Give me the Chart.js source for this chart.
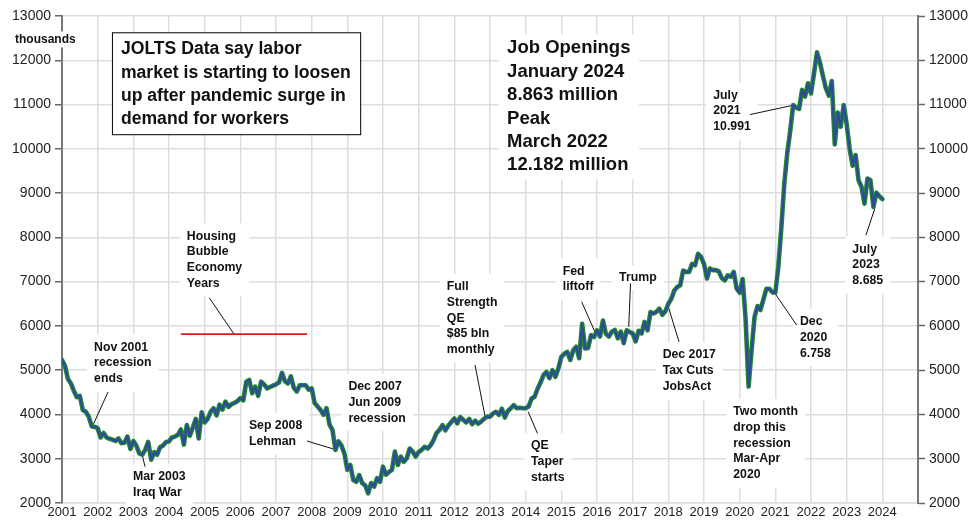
<!DOCTYPE html>
<html lang="en">
<head>
  <meta charset="UTF-8" />
  <title>JOLTS Job Openings</title>
  <script src="https://cdn.jsdelivr.net/npm/chart.js"></script>
  <style>
    body { margin: 0; padding: 0; background: #fff; }
    #wrap { width: 980px; height: 521px; position: relative; }
  </style>
</head>
<body>
  <div id="wrap"><canvas id="chartCanvas" width="980" height="521"></canvas></div>

  <script>
    // JOLTS job openings, thousands, monthly Jan..Dec of each year
    const y2001 = [5230, 5100, 4800, 4700, 4530, 4390, 4420, 4100, 4060, 3950, 3730, 3720];
    const y2002 = [3690, 3480, 3580, 3480, 3450, 3430, 3400, 3460, 3350, 3360, 3500, 3220];
    const y2003 = [3400, 3300, 3120, 3090, 3200, 3380, 2980, 3150, 3090, 3260, 3300, 3380];
    const y2004 = [3390, 3480, 3500, 3540, 3660, 3320, 3760, 3520, 3700, 3900, 3460, 4050];
    const y2005 = [3820, 3900, 4060, 4140, 3980, 4220, 4110, 4290, 4170, 4230, 4260, 4300];
    const y2006 = [4370, 4320, 4740, 4780, 4480, 4630, 4420, 4740, 4680, 4590, 4620, 4650];
    const y2007 = [4680, 4720, 4940, 4750, 4700, 4860, 4600, 4520, 4660, 4660, 4660, 4560];
    const y2008 = [4590, 4260, 4180, 4100, 3990, 4140, 3770, 3650, 3200, 3390, 3300, 3120];
    const y2009 = [2750, 2860, 2520, 2480, 2630, 2450, 2400, 2220, 2450, 2370, 2560, 2480];
    const y2010 = [2820, 2640, 2700, 2750, 3160, 2860, 3050, 2930, 3010, 3230, 3160, 3050];
    const y2011 = [3150, 3200, 3270, 3230, 3300, 3420, 3580, 3650, 3760, 3640, 3750, 3830];
    const y2012 = [3910, 3800, 3940, 3880, 3820, 3900, 3780, 3860, 3790, 3840, 3900, 3950];
    const y2013 = [3950, 4020, 4060, 3990, 4130, 3930, 4080, 4140, 4210, 4140, 4150, 4140];
    const y2014 = [4140, 4180, 4360, 4400, 4580, 4720, 4890, 4960, 4820, 5000, 4850, 5040];
    const y2015 = [5300, 5370, 5410, 5230, 5450, 5530, 5270, 6050, 5490, 5500, 5790, 5750];
    const y2016 = [5900, 5760, 6120, 5820, 5760, 5870, 5910, 5720, 5870, 5610, 5900, 5860];
    const y2017 = [5830, 5650, 5890, 5830, 6090, 5900, 6310, 6280, 6320, 6390, 6250, 6330];
    const y2018 = [6500, 6610, 6800, 6880, 6920, 7250, 7220, 7220, 7400, 7370, 7630, 7560];
    const y2019 = [7400, 7070, 7300, 7260, 7260, 7230, 7080, 7030, 7140, 7110, 7220, 6840];
    const y2020 = [6750, 7060, 6150, 4630, 5450, 6200, 6450, 6360, 6600, 6840, 6840, 6758];
    const y2021 = [6750, 7330, 8200, 9200, 9900, 10400, 10991, 10930, 10900, 11330, 11180, 11480];
    const y2022 = [11250, 11700, 12182, 11950, 11650, 11370, 11200, 11530, 10100, 10820, 10500, 10990];
    const y2023 = [10560, 10000, 9620, 9860, 9290, 9140, 8760, 9330, 9290, 8685, 9010, 8930];
    const y2024 = [8863];

    const years = [2001, 2002, 2003, 2004, 2005, 2006, 2007, 2008, 2009, 2010, 2011, 2012,
                   2013, 2014, 2015, 2016, 2017, 2018, 2019, 2020, 2021, 2022, 2023, 2024];
    const byYear = [y2001, y2002, y2003, y2004, y2005, y2006, y2007, y2008, y2009, y2010, y2011, y2012,
                    y2013, y2014, y2015, y2016, y2017, y2018, y2019, y2020, y2021, y2022, y2023, y2024];

    const points = [];
    byYear.forEach((arr, i) => {
      arr.forEach((v, m) => points.push({ x: years[i] + m / 12, y: v }));
    });

    const FONT = "'Liberation Sans', Arial, sans-serif";

    // notes: text lines, anchor (year, value) of first line, optional pointer
    const notes = [
      { lines: ["Nov 2001", "recession", "ends"], x: 2001.90, y: 5521, ptr: [2002.29, 4506, 2001.87, 3761] },
      { lines: ["Mar 2003", "Iraq War"], x: 2002.99, y: 2587, ptr: [2003.26, 3045, 2003.33, 2819] },
      { lines: ["Sep 2008", "Lehman"], x: 2006.24, y: 3745, ptr: [2007.87, 3400, 2008.71, 3196] },
      { lines: ["Dec 2007", "Jun 2009", "recession"], x: 2009.03, y: 4625 },
      { lines: ["Housing", "Bubble", "Economy", "Years"], x: 2004.50, y: 8027, ptr: [2005.13, 6634, 2005.83, 5808] },
      { lines: ["Full", "Strength", "QE", "$85 bln", "monthly"], x: 2011.79, y: 6883, ptr: [2012.58, 5115, 2012.86, 3964] },
      { lines: ["QE", "Taper", "starts"], x: 2014.15, y: 3287, ptr: [2014.07, 4061, 2014.33, 3573] },
      { lines: ["Fed", "liftoff"], x: 2015.04, y: 7237, ptr: [2015.57, 6544, 2015.94, 5867] },
      { lines: ["Trump"], x: 2016.62, y: 7086, ptr: [2016.94, 6959, 2016.89, 5980] },
      { lines: ["Dec 2017", "Tax Cuts", "JobsAct"], x: 2017.84, y: 5341, ptr: [2018.00, 6431, 2018.30, 5641] },
      { lines: ["Two month", "drop this", "recession", "Mar-Apr", "2020"], x: 2019.82, y: 4061 },
      { lines: ["Dec", "2020", "6.758"], x: 2021.69, y: 6093, ptr: [2020.99, 6734, 2021.60, 6018] },
      { lines: ["July", "2021", "10.991"], x: 2019.26, y: 11210, ptr: [2020.29, 10774, 2021.50, 10984] },
      { lines: ["July", "2023", "8.685"], x: 2023.16, y: 7734, ptr: [2023.54, 8050, 2023.79, 8652] }
    ];
    const headline = ["JOLTS Data say labor", "market is starting to loosen", "up after pandemic surge in", "demand for workers"];
    const summary = ["Job Openings", "January 2024", "8.863 million", "Peak", "March 2022", "12.182 million"];
    const bubbleLine = [2004.33, 2007.87, 5815];

    const notesPlugin = {
      id: "notes",
      beforeDatasetsDraw(chart) {
        const ctx = chart.ctx;
        const xs = chart.scales.x, ys = chart.scales.y;
        const px = v => xs.getPixelForValue(v);
        const py = v => ys.getPixelForValue(v);
        ctx.save();
        ctx.textBaseline = "middle";
        ctx.textAlign = "left";

        // headline box
        ctx.font = "bold 17.6px " + FONT;
        const bx = px(2002.40), by = py(12632), bw = px(2009.36) - bx, bh = py(10330) - by;
        ctx.fillStyle = "#fff";
        ctx.fillRect(bx, by, bw, bh);
        ctx.strokeStyle = "#000";
        ctx.lineWidth = 1;
        ctx.strokeRect(bx + 0.5, by + 0.5, bw, bh);
        ctx.fillStyle = "#111";
        headline.forEach((t, i) => ctx.fillText(t, bx + 9, by + 17 + i * 23.4));

        // summary block
        ctx.font = "bold 18.5px " + FONT;
        const sx = px(2013.48), sy = py(12271);
        ctx.fillStyle = "#fff";
        ctx.fillRect(sx - 8, sy - 14, 140, 23.4 * 5 + 28);
        ctx.fillStyle = "#111";
        summary.forEach((t, i) => ctx.fillText(t, sx, sy + i * 23.4));

        // thousands
        ctx.font = "bold 12px " + FONT;
        ctx.fillStyle = "#fff";
        ctx.fillRect(chart.chartArea.left - 48, py(12470) - 8, 64, 16);
        ctx.fillStyle = "#111";
        ctx.fillText("thousands", chart.chartArea.left - 47, py(12470));

        // notes
        ctx.font = "bold 12.3px " + FONT;
        const lh = 15.7;
        notes.forEach(n => {
          const x0 = px(n.x), y0 = py(n.y);
          const w = Math.max(...n.lines.map(t => ctx.measureText(t).width));
          ctx.fillStyle = "#fff";
          ctx.fillRect(x0 - 7, y0 - lh / 2 - 5, w + 14, lh * n.lines.length + 10);
          ctx.fillStyle = "#111";
          n.lines.forEach((t, i) => ctx.fillText(t, x0, y0 + i * lh));
          if (n.ptr) {
            ctx.strokeStyle = "#111";
            ctx.lineWidth = 1;
            ctx.beginPath();
            ctx.moveTo(px(n.ptr[0]), py(n.ptr[1]));
            ctx.lineTo(px(n.ptr[2]), py(n.ptr[3]));
            ctx.stroke();
          }
        });

        // housing bubble red bar
        ctx.strokeStyle = "#e01818";
        ctx.lineWidth = 1.8;
        ctx.beginPath();
        ctx.moveTo(px(bubbleLine[0]), py(bubbleLine[2]));
        ctx.lineTo(px(bubbleLine[1]), py(bubbleLine[2]));
        ctx.stroke();
        ctx.restore();
      }
    };

    const lineStyle = { pointRadius: 0, tension: 0, borderJoinStyle: "round", borderCapStyle: "round" };

    new Chart(document.getElementById("chartCanvas"), {
      type: "line",
      data: {
        datasets: [
          Object.assign({ data: points, borderColor: "#2f4a9c", borderWidth: 2.2, order: 0 }, lineStyle),
          Object.assign({ data: points, borderColor: "#1f8a2a", borderWidth: 4.6, order: 1 }, lineStyle)
        ]
      },
      options: {
        responsive: false,
        animation: false,
        layout: { padding: { top: 16, left: 0, right: 0, bottom: 0 } },
        plugins: { legend: { display: false }, tooltip: { enabled: false } },
        scales: {
          x: {
            type: "linear",
            min: 2001, max: 2025,
            afterFit: a => { a.height = 18; },
            afterBuildTicks: a => { a.ticks = years.concat([2025]).map(v => ({ value: v })); },
            ticks: {
              padding: 2,
              maxRotation: 0,
              color: "#222",
              font: { family: FONT, size: 13 },
              callback: v => (v < 2025 ? String(v) : "")
            },
            grid: { color: "#dedede", lineWidth: 1.5, drawTicks: false },
            border: { display: true, color: "#dedede", width: 1.5 }
          },
          y: {
            position: "left",
            min: 2000, max: 13000,
            afterFit: a => { a.width = 62; },
            ticks: { stepSize: 1000, padding: 4, color: "#222", font: { family: FONT, size: 14 }, callback: v => String(v) },
            grid: { color: "#dedede", lineWidth: 1.5, tickLength: 7, tickColor: "#666", tickWidth: 1.5 },
            border: { display: true, color: "#777", width: 2 }
          },
          y2: {
            position: "right",
            min: 2000, max: 13000,
            afterFit: a => { a.width = 62; },
            ticks: { stepSize: 1000, padding: 4, color: "#222", font: { family: FONT, size: 14 }, callback: v => String(v) },
            grid: { drawOnChartArea: false, tickLength: 7, tickColor: "#666", tickWidth: 1.5 },
            border: { display: true, color: "#777", width: 2 }
          }
        }
      },
      plugins: [notesPlugin]
    });
  </script>
</body>
</html>
